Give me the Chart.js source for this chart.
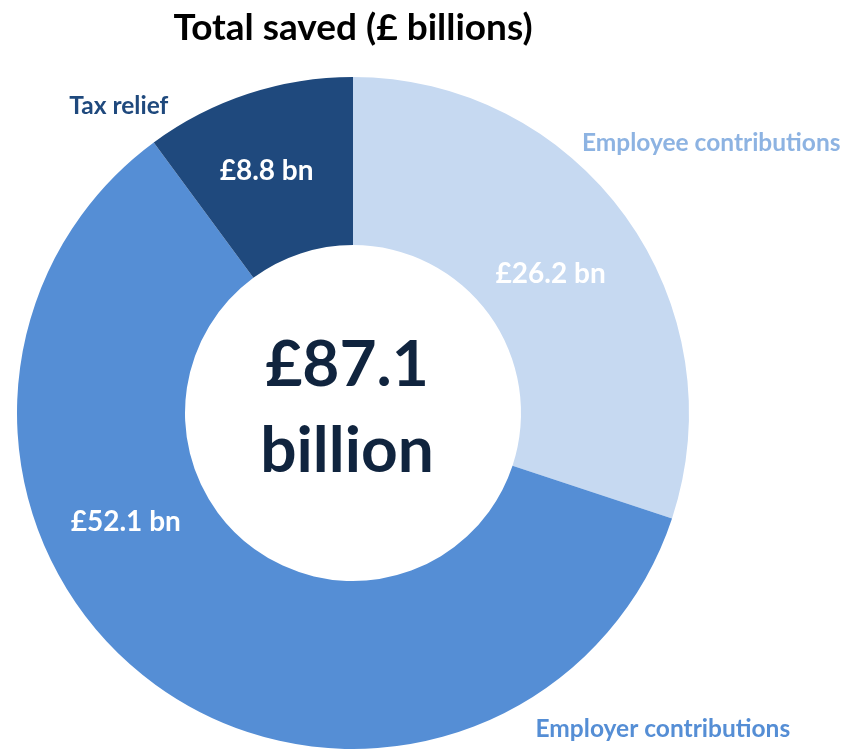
<!DOCTYPE html>
<html>
<head>
<meta charset="utf-8">
<script src="https://cdn.jsdelivr.net/npm/chart.js@4"></script>
<style>
html,body{margin:0;padding:0;background:#fff;}
#wrap{width:845px;height:750px;position:relative;}
</style>
</head>
<body>
<div id="wrap"><canvas id="c" width="845" height="750"></canvas></div>
<script>
const categories = ["Employee contributions", "Employer contributions", "Tax relief"];
const values = [26.2, 52.1, 8.8];
const valueLabels = ["£26.2 bn", "£52.1 bn", "£8.8 bn"];
const totalLines = ["£87.1", "billion"];
const titleText = "Total saved (£ billions)";

const sliceColors = ["#c6d9f1", "#558ed5", "#1f497d"];
const nameColors = ["#8db3e2", "#558ed5", "#1f497d"];
const FONT = "Lato, 'Open Sans', sans-serif";

// placement: fraction along each arc and across the ring for inner value labels
const innerFrac = [0.506, 0.632, 0.46];
const ringFrac = [0.44, 0.5, 0.53];
// outer name labels: angle deg from top, radius factor
const outerSpec = [[53, 1.335], [135.6, 1.318], [322.7, 1.15]];

const textPlugin = {
  id: 'texts',
  afterDraw(chart) {
    const ctx = chart.ctx;
    const meta = chart.getDatasetMeta(0);
    const a0 = meta.data[0];
    const cx = a0.x, cy = a0.y;
    const R = a0.outerRadius, r = a0.innerRadius;
    ctx.save();
    ctx.textAlign = 'center';
    ctx.textBaseline = 'middle';
    // title
    ctx.fillStyle = '#000';
    ctx.font = "bold 37px " + FONT;
    ctx.fillText(titleText, cx, 28);
    // inner value labels
    ctx.fillStyle = '#fff';
    ctx.font = "bold 28px " + FONT;
    meta.data.forEach((arc, i) => {
      const ang = arc.startAngle + (arc.endAngle - arc.startAngle) * innerFrac[i];
      const rr = r + (R - r) * ringFrac[i];
      ctx.fillText(valueLabels[i], cx + rr * Math.cos(ang), cy + rr * Math.sin(ang));
    });
    // outer name labels
    ctx.font = "bold 24.5px " + FONT;
    categories.forEach((name, i) => {
      const ang = (outerSpec[i][0] - 90) * Math.PI / 180;
      const rr = R * outerSpec[i][1];
      ctx.fillStyle = nameColors[i];
      ctx.fillText(name, cx + rr * Math.cos(ang), cy + rr * Math.sin(ang));
    });
    // center total
    ctx.fillStyle = '#10243e';
    ctx.font = "bold 64px " + FONT;
    ctx.fillText(totalLines[0], cx - 6, cy - 48);
    ctx.fillText(totalLines[1], cx - 6, cy + 38);
    ctx.restore();
  }
};

new Chart(document.getElementById('c'), {
  type: 'doughnut',
  data: {
    labels: categories,
    datasets: [{
      data: values,
      backgroundColor: sliceColors,
      borderWidth: 0,
      hoverOffset: 0
    }]
  },
  options: {
    responsive: false,
    animation: false,
    cutout: '50%',
    layout: { padding: { left: 17, right: 156, top: 77, bottom: 1 } },
    plugins: {
      legend: { display: false },
      tooltip: { enabled: false },
      title: { display: false }
    }
  },
  plugins: [textPlugin]
});
</script>
</body>
</html>
